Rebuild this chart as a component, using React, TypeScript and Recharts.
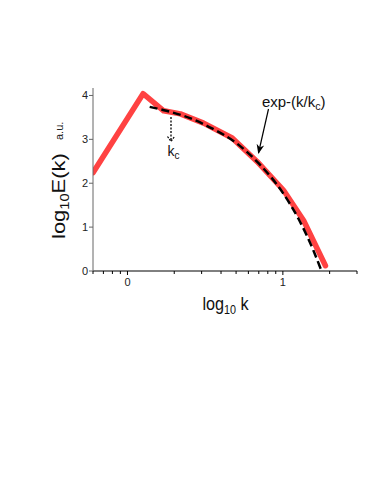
import React from 'react';
import { LineChart, Line, XAxis, YAxis } from 'recharts';

// spectrum (red polyline), x = k, y = log10 E(k)
const specK = [0.6, 1.26, 1.71, 2.19, 3.09, 4.72, 6.84, 10.1, 13.6, 18.8];
const specE = [2.24, 4.04, 3.65, 3.58, 3.37, 3.03, 2.49, 1.84, 1.15, 0.12];

// exponential fit (black dashed)
const fitK = [1.39, 1.78, 2.5, 3.5, 5.0, 7.0, 10, 12.6, 15.8, 17.6];
const fitE = [3.74, 3.65, 3.49, 3.25, 2.92, 2.45, 1.78, 1.19, 0.45, 0.03];

const xTicks = [0.6, 0.7, 0.8, 0.9, 1, 2, 3, 4, 5, 6, 7, 8, 9, 10, 20, 30];
const xLabels: Record<number, string> = { 1: '0', 10: '1' };
const yTicks = [0, 1, 2, 3, 4];

const spec = specK.map((k, i) => ({ k, e: specE[i] }));
const fit = fitK.map((k, i) => ({ k, e: fitE[i] }));

const FONT = '"Liberation Sans", Arial, Helvetica, sans-serif';

const XTick = (props: any) => {
  const { x, y, payload } = props;
  const label = xLabels[payload.value];
  return (
    <g>
      <line x1={x} x2={x} y1={y} y2={y + (label ? 4 : 3)} stroke="#000" strokeWidth={1} />
      {label && (
        <text x={x} y={y + 15} textAnchor="middle" fontSize={11} fill="#222" fontFamily={FONT}>
          {label}
        </text>
      )}
    </g>
  );
};

export default function App() {
  return (
    <div style={{ position: 'absolute', left: 0, top: 0, width: 374, height: 488, background: '#fff' }}>
      <LineChart
        width={374}
        height={488}
        margin={{ top: 88, right: 17, bottom: 216, left: 92 }}
        style={{ position: 'absolute', left: 0, top: 0 }}
      >
        <XAxis
          type="number"
          dataKey="k"
          scale="log"
          domain={[0.6, 30]}
          allowDataOverflow
          ticks={xTicks}
          interval={0}
          height={1}
          tickSize={0}
          tickMargin={0}
          tickLine={false}
          axisLine={{ stroke: '#000', strokeWidth: 1 }}
          tick={<XTick />}
        />
        <YAxis
          type="number"
          domain={[0, 4.17]}
          allowDataOverflow
          ticks={yTicks}
          width={1}
          tickSize={4}
          tickMargin={1}
          axisLine={{ stroke: '#666', strokeWidth: 1 }}
          tickLine={{ stroke: '#666' }}
          tick={{ fontSize: 11, fill: '#222', fontFamily: FONT }}
        />
        <Line
          data={spec}
          dataKey="e"
          type="linear"
          stroke="#ff4242"
          strokeWidth={5.5}
          strokeLinecap="round"
          strokeLinejoin="round"
          dot={false}
          isAnimationActive={false}
        />
        <Line
          data={fit}
          dataKey="e"
          type="monotone"
          stroke="#000"
          strokeWidth={2.5}
          strokeDasharray="8 4"
          dot={false}
          isAnimationActive={false}
        />
      </LineChart>
      <svg
        width={374}
        height={488}
        style={{ position: 'absolute', left: 0, top: 0, pointerEvents: 'none' }}
        fontFamily={FONT}
      >
        <defs>
          <marker id="head" viewBox="0 0 10 10" refX="9" refY="5" markerWidth="8" markerHeight="8" orient="auto">
            <path d="M0,1 L10,5 L0,9 L3,5 Z" fill="#000" />
          </marker>
        </defs>
        {/* exp fit annotation */}
        <text x={262} y={107} fontSize={14} fill="#111" transform="translate(262,0) scale(1.07,1) translate(-262,0)">
          exp-(k/k<tspan fontSize={10} dy={3}>c</tspan><tspan dy={-3}>)</tspan>
        </text>
        <line x1={268.5} y1={109} x2={258.5} y2={153} stroke="#000" strokeWidth={1.2} markerEnd="url(#head)" />
        {/* k_c marker */}
        <line x1={171} y1={117} x2={171} y2={141} stroke="#000" strokeWidth={1.3} strokeDasharray="2 1.5" />
        <path d="M167.5,136.5 L171,141.5 L174.5,136.5" fill="none" stroke="#000" strokeWidth={1.2} strokeDasharray="2 1.2" />
        <text x={167.5} y={156} fontSize={14} fill="#111">
          k<tspan fontSize={10} dy={3}>c</tspan>
        </text>
        {/* axis titles */}
        <text x={202.5} y={310} fontSize={18} fill="#111" transform="translate(202.5,0) scale(0.9,1) translate(-202.5,0)">
          log<tspan fontSize={12} dy={4}>10</tspan><tspan dy={-4}> k</tspan>
        </text>
        <text transform="translate(65,239) rotate(-90) scale(1.22,1)" fontSize={18} fill="#111">
          log<tspan fontSize={12} dy={4}>10</tspan><tspan dy={-4}>E(k)</tspan>
        </text>
        <text transform="translate(63,140) rotate(-90)" fontSize={11} fill="#222">
          a.u.
        </text>
      </svg>
    </div>
  );
}
